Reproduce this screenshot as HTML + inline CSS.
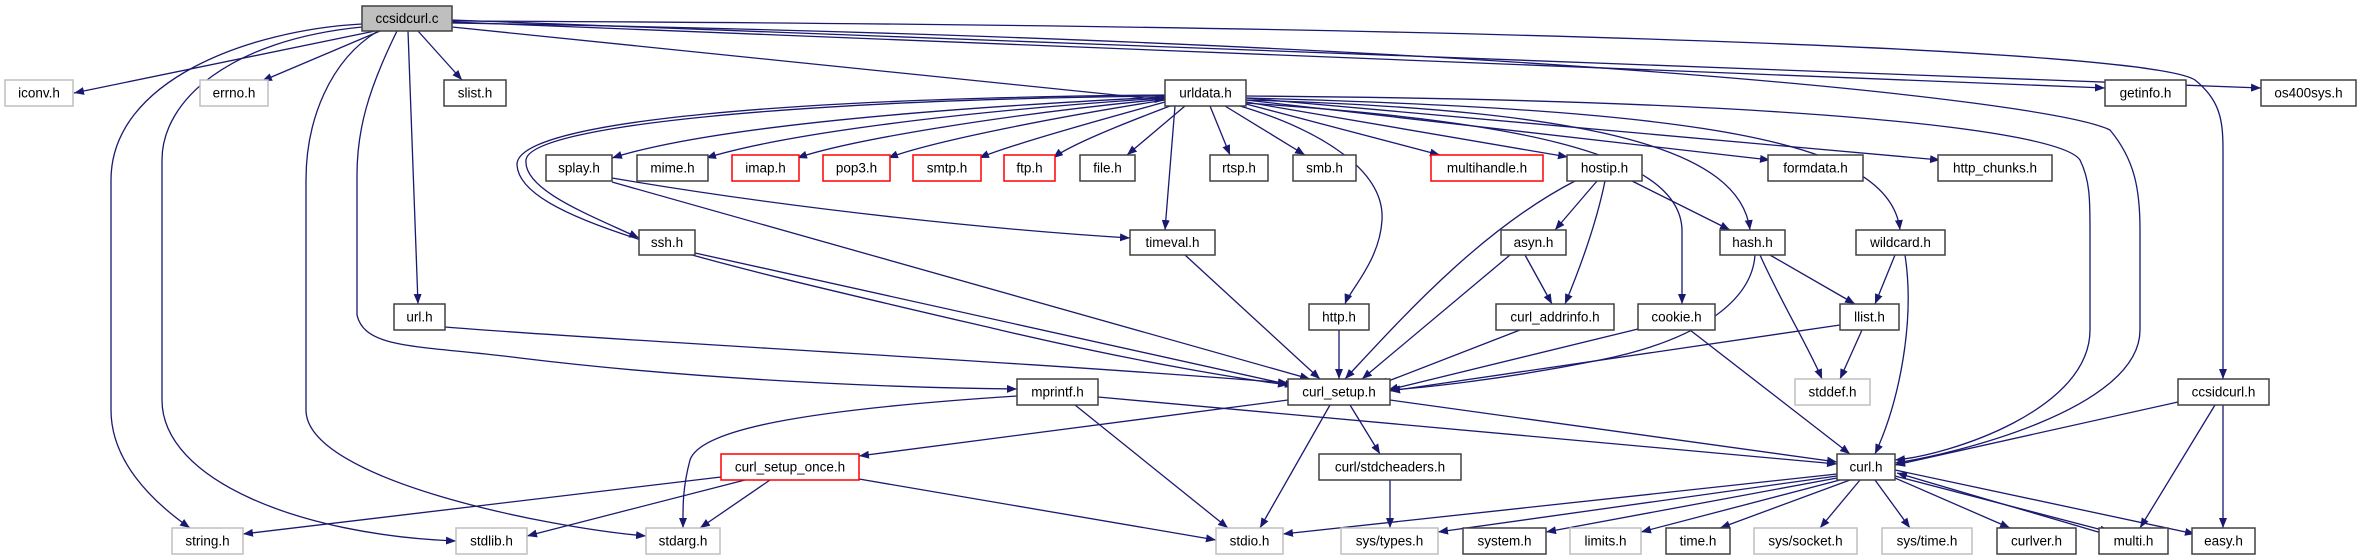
<!DOCTYPE html>
<html><head><meta charset="utf-8"><style>
html,body{margin:0;padding:0;background:#fff;width:2361px;height:560px;overflow:hidden}
svg text{font-family:"Liberation Sans",sans-serif;font-size:13.5px;fill:#000;text-anchor:middle;dominant-baseline:central}
.e{fill:none;stroke:#191970;stroke-width:1.3;marker-end:url(#a)}
.n{fill:#fff;stroke:#404040;stroke-width:1.5}
.g{fill:#fff;stroke:#bfbfbf;stroke-width:1.5}
.r{fill:#fff;stroke:#ff0000;stroke-width:1.5}
</style></head><body>
<svg width="2361" height="560" viewBox="0 0 2361 560" xmlns="http://www.w3.org/2000/svg">
<defs><marker id="a" markerUnits="userSpaceOnUse" markerWidth="11" markerHeight="8" refX="10" refY="4" orient="auto"><path d="M0,0 L10,4 L0,8 z" fill="#191970"/></marker></defs>
<g>
<path class="e" d="M375,31 L74,93"/>
<path class="e" d="M380,31 L262,81"/>
<path class="e" d="M418,31 L462,80"/>
<path class="e" d="M362,24 C250,30 111,80 111,180 L111,410 C111,460 150,500 190,528"/>
<path class="e" d="M362,27 C230,40 162,100 162,160 L162,400 C162,480 300,535 456,541"/>
<path class="e" d="M378,31 C330,60 306,120 306,180 L306,410 C306,480 550,528 646,536"/>
<path class="e" d="M397,31 C368,90 357,130 357,175 L357,315 C365,350 420,345 520,358 C700,380 900,388 1017,389"/>
<path class="e" d="M408,31 L418,304"/>
<path class="e" d="M452,27 L1165,100"/>
<path class="e" d="M452,22 L2105,88"/>
<path class="e" d="M452,20 L2261,88"/>
<path class="e" d="M452,21 C1500,25 2150,50 2195,80 C2220,100 2223,120 2223,150 L2223,379"/>
<path class="e" d="M452,23 C1500,40 2050,100 2110,130 C2135,160 2140,190 2140,230 L2140,330 C2140,410 1950,455 1895,463"/>
<path class="e" d="M1165,97 C900,110 700,130 612,158"/>
<path class="e" d="M1165,98 C950,112 780,135 706,158"/>
<path class="e" d="M1165,99 C1000,115 850,140 797,158"/>
<path class="e" d="M1165,100 C1050,118 930,142 888,158"/>
<path class="e" d="M1165,102 C1100,120 1010,145 979,158"/>
<path class="e" d="M1170,106 C1120,125 1070,145 1053,158"/>
<path class="e" d="M1185,106 L1127,155"/>
<path class="e" d="M1210,106 L1230,155"/>
<path class="e" d="M1225,106 L1305,155"/>
<path class="e" d="M1246,104 L1440,155"/>
<path class="e" d="M1246,102 L1568,157"/>
<path class="e" d="M1246,100 L1770,160"/>
<path class="e" d="M1246,98 L1940,160"/>
<path class="e" d="M1165,96 C800,100 530,125 526,160 C523,190 590,215 639,238"/>
<path class="e" d="M1165,95 C800,98 515,120 517,165 C520,220 700,260 1000,330 C1150,365 1250,380 1288,385"/>
<path class="e" d="M1175,106 L1165,230"/>
<path class="e" d="M1240,106 C1320,130 1385,170 1382,220 C1380,260 1350,290 1345,304"/>
<path class="e" d="M1246,103 C1500,120 1680,150 1682,230 L1682,304"/>
<path class="e" d="M1246,100 C1600,110 1740,150 1750,230"/>
<path class="e" d="M1246,98 C1700,110 1890,140 1900,230"/>
<path class="e" d="M1246,96 C1800,100 2060,130 2080,160 C2090,180 2090,200 2090,230 L2090,330 C2090,410 1950,455 1895,460"/>
<path class="e" d="M612,178 C800,210 1000,230 1130,238"/>
<path class="e" d="M612,182 L1310,379"/>
<path class="e" d="M695,253 L1295,386"/>
<path class="e" d="M1185,255 L1320,379"/>
<path class="e" d="M1339,330 L1339,379"/>
<path class="e" d="M1575,181 C1480,230 1400,320 1345,379"/>
<path class="e" d="M1597,181 L1555,230"/>
<path class="e" d="M1605,181 C1595,230 1575,280 1565,304"/>
<path class="e" d="M1632,181 L1730,230"/>
<path class="e" d="M1525,255 L1552,304"/>
<path class="e" d="M1510,255 L1362,379"/>
<path class="e" d="M1520,330 L1378,385"/>
<path class="e" d="M1638,329 L1388,390"/>
<path class="e" d="M1690,330 L1850,454"/>
<path class="e" d="M1755,255 C1752,300 1700,340 1600,360 C1500,380 1420,388 1390,390"/>
<path class="e" d="M1770,255 L1855,304"/>
<path class="e" d="M1760,255 C1780,300 1810,350 1822,379"/>
<path class="e" d="M1895,255 L1875,304"/>
<path class="e" d="M1905,255 C1915,320 1900,400 1875,454"/>
<path class="e" d="M1840,325 L1390,391"/>
<path class="e" d="M1862,330 L1840,379"/>
<path class="e" d="M445,327 C600,340 1000,360 1288,383"/>
<path class="e" d="M1098,397 L1837,464"/>
<path class="e" d="M1017,396 C800,410 700,430 690,460 C682,490 683,510 683,528"/>
<path class="e" d="M1075,405 L1228,528"/>
<path class="e" d="M1288,400 L859,456"/>
<path class="e" d="M1350,405 L1380,454"/>
<path class="e" d="M1330,405 L1260,528"/>
<path class="e" d="M1390,400 L1837,462"/>
<path class="e" d="M721,477 L243,534"/>
<path class="e" d="M745,480 L527,536"/>
<path class="e" d="M770,480 L700,528"/>
<path class="e" d="M859,479 L1216,540"/>
<path class="e" d="M1390,480 L1390,528"/>
<path class="e" d="M1837,474 L1283,534"/>
<path class="e" d="M1837,476 L1438,532"/>
<path class="e" d="M1837,478 L1546,532"/>
<path class="e" d="M1840,480 L1641,532"/>
<path class="e" d="M1850,480 L1720,528"/>
<path class="e" d="M1860,480 L1820,528"/>
<path class="e" d="M1875,480 L1910,528"/>
<path class="e" d="M1895,478 L2010,528"/>
<path class="e" d="M1895,476 L2110,532"/>
<path class="e" d="M2105,534 L1897,473"/>
<path class="e" d="M1895,470 L2195,534"/>
<path class="e" d="M2178,402 L1895,465"/>
<path class="e" d="M2215,405 L2140,528"/>
<path class="e" d="M2223,405 L2223,528"/>
</g>
<rect x="362" y="6" width="90" height="25" fill="#bfbfbf" stroke="#404040" stroke-width="1.5"/><text x="407" y="18.5">ccsidcurl.c</text>
<rect class="g" x="5" y="80" width="68" height="26"/><text x="39" y="93">iconv.h</text>
<rect class="g" x="200" y="80" width="68" height="26"/><text x="234" y="93">errno.h</text>
<rect class="n" x="444" y="80" width="62" height="26"/><text x="475" y="93">slist.h</text>
<rect class="n" x="1165" y="80" width="81" height="26"/><text x="1205.5" y="93">urldata.h</text>
<rect class="n" x="2105" y="80" width="81" height="26"/><text x="2145.5" y="93">getinfo.h</text>
<rect class="n" x="2261" y="80" width="95" height="26"/><text x="2308.5" y="93">os400sys.h</text>
<rect class="n" x="546" y="155" width="66" height="26"/><text x="579" y="168">splay.h</text>
<rect class="n" x="637" y="155" width="71" height="26"/><text x="672.5" y="168">mime.h</text>
<rect class="r" x="732" y="155" width="67" height="26"/><text x="765.5" y="168">imap.h</text>
<rect class="r" x="823" y="155" width="67" height="26"/><text x="856.5" y="168">pop3.h</text>
<rect class="r" x="913" y="155" width="68" height="26"/><text x="947" y="168">smtp.h</text>
<rect class="r" x="1004" y="155" width="51" height="26"/><text x="1029.5" y="168">ftp.h</text>
<rect class="n" x="1080" y="155" width="55" height="26"/><text x="1107.5" y="168">file.h</text>
<rect class="n" x="1210" y="155" width="58" height="26"/><text x="1239" y="168">rtsp.h</text>
<rect class="n" x="1293" y="155" width="63" height="26"/><text x="1324.5" y="168">smb.h</text>
<rect class="r" x="1431" y="155" width="112" height="26"/><text x="1487" y="168">multihandle.h</text>
<rect class="n" x="1567" y="155" width="75" height="26"/><text x="1604.5" y="168">hostip.h</text>
<rect class="n" x="1768" y="155" width="95" height="26"/><text x="1815.5" y="168">formdata.h</text>
<rect class="n" x="1938" y="155" width="114" height="26"/><text x="1995" y="168">http_chunks.h</text>
<rect class="n" x="639" y="230" width="56" height="25"/><text x="667" y="242.5">ssh.h</text>
<rect class="n" x="1130" y="230" width="85" height="25"/><text x="1172.5" y="242.5">timeval.h</text>
<rect class="n" x="1501" y="230" width="65" height="25"/><text x="1533.5" y="242.5">asyn.h</text>
<rect class="n" x="1720" y="230" width="65" height="25"/><text x="1752.5" y="242.5">hash.h</text>
<rect class="n" x="1856" y="230" width="89" height="25"/><text x="1900.5" y="242.5">wildcard.h</text>
<rect class="n" x="394" y="304" width="51" height="26"/><text x="419.5" y="317">url.h</text>
<rect class="n" x="1309" y="304" width="60" height="26"/><text x="1339" y="317">http.h</text>
<rect class="n" x="1496" y="304" width="118" height="26"/><text x="1555" y="317">curl_addrinfo.h</text>
<rect class="n" x="1638" y="304" width="77" height="26"/><text x="1676.5" y="317">cookie.h</text>
<rect class="n" x="1840" y="304" width="59" height="26"/><text x="1869.5" y="317">llist.h</text>
<rect class="n" x="1017" y="379" width="81" height="26"/><text x="1057.5" y="392">mprintf.h</text>
<rect class="n" x="1288" y="379" width="102" height="26"/><text x="1339" y="392">curl_setup.h</text>
<rect class="g" x="1795" y="379" width="75" height="26"/><text x="1832.5" y="392">stddef.h</text>
<rect class="n" x="2178" y="379" width="91" height="26"/><text x="2223.5" y="392">ccsidcurl.h</text>
<rect class="r" x="721" y="454" width="138" height="26"/><text x="790" y="467">curl_setup_once.h</text>
<rect class="n" x="1319" y="454" width="142" height="26"/><text x="1390" y="467">curl/stdcheaders.h</text>
<rect class="n" x="1837" y="454" width="58" height="26"/><text x="1866" y="467">curl.h</text>
<rect class="g" x="172" y="528" width="71" height="26"/><text x="207.5" y="541">string.h</text>
<rect class="g" x="456" y="528" width="71" height="26"/><text x="491.5" y="541">stdlib.h</text>
<rect class="g" x="646" y="528" width="74" height="26"/><text x="683" y="541">stdarg.h</text>
<rect class="g" x="1216" y="528" width="67" height="26"/><text x="1249.5" y="541">stdio.h</text>
<rect class="g" x="1341" y="528" width="97" height="26"/><text x="1389.5" y="541">sys/types.h</text>
<rect class="n" x="1463" y="528" width="83" height="26"/><text x="1504.5" y="541">system.h</text>
<rect class="g" x="1570" y="528" width="71" height="26"/><text x="1605.5" y="541">limits.h</text>
<rect class="n" x="1666" y="528" width="64" height="26"/><text x="1698" y="541">time.h</text>
<rect class="g" x="1754" y="528" width="103" height="26"/><text x="1805.5" y="541">sys/socket.h</text>
<rect class="g" x="1882" y="528" width="90" height="26"/><text x="1927" y="541">sys/time.h</text>
<rect class="n" x="1997" y="528" width="79" height="26"/><text x="2036.5" y="541">curlver.h</text>
<rect class="n" x="2099" y="528" width="69" height="26"/><text x="2133.5" y="541">multi.h</text>
<rect class="n" x="2192" y="528" width="63" height="26"/><text x="2223.5" y="541">easy.h</text>
</svg>
</body></html>
